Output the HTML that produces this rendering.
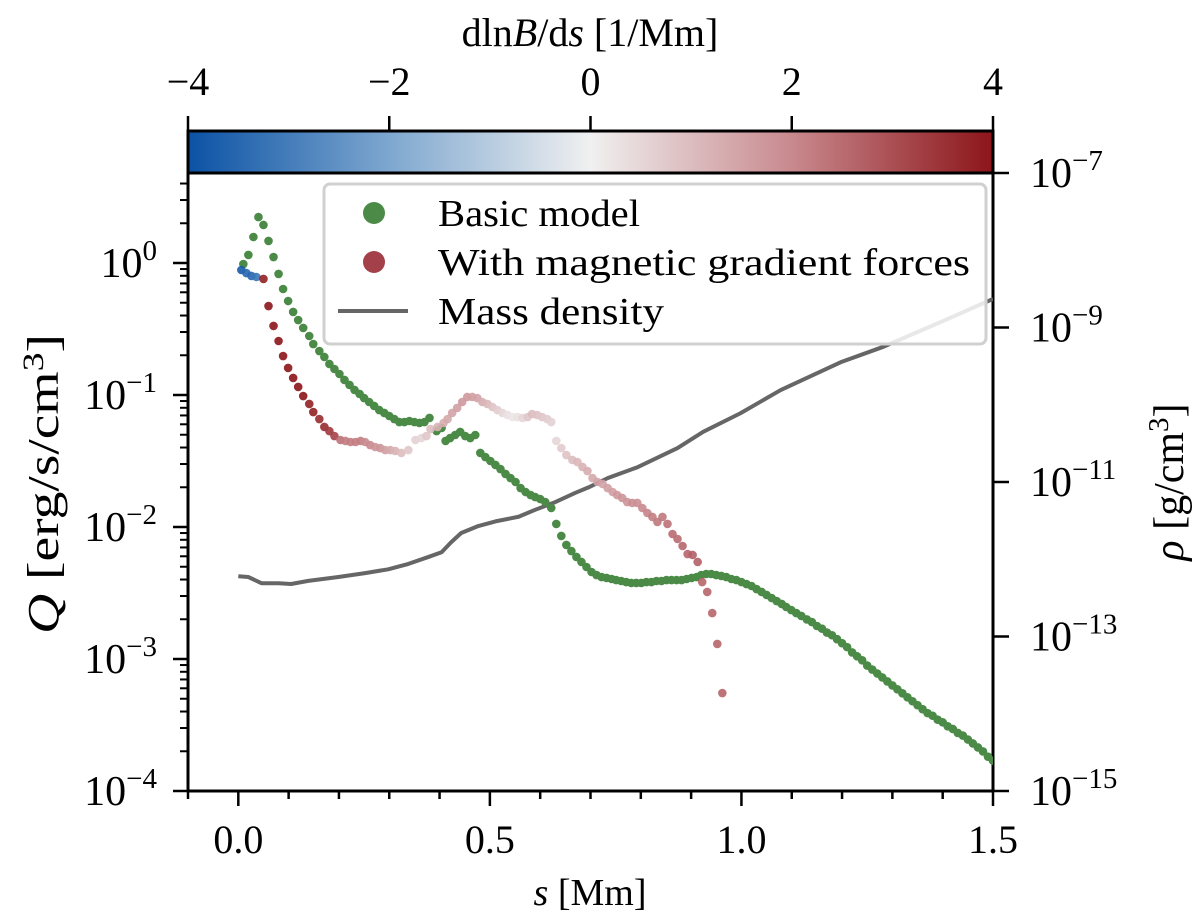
<!DOCTYPE html>
<html><head><meta charset="utf-8"><style>
html,body{margin:0;padding:0;background:#fff}
svg{display:block;font-family:"Liberation Serif",serif}
</style></head><body>
<svg id="chart" width="1200" height="923" viewBox="0 0 1200 923" xmlns="http://www.w3.org/2000/svg">
<defs>
<linearGradient id="cbgrad" x1="0" x2="1" y1="0" y2="0">
<stop offset="0" stop-color="#0b52a5"/><stop offset="0.25" stop-color="#7ea7cf"/><stop offset="0.5" stop-color="#f0f0f0"/><stop offset="0.75" stop-color="#c8898e"/><stop offset="1" stop-color="#8c1519"/>
</linearGradient>
<clipPath id="plotclip"><rect x="188" y="173" width="805" height="618"/></clipPath>
</defs>
<g id="axes"></g>
<g id="marks" clip-path="url(#plotclip)"></g>
<rect x="188" y="131" width="805" height="42" fill="url(#cbgrad)" stroke="#000" stroke-width="3"/>
<text x="590" y="46" font-size="40" text-anchor="middle">dln<tspan font-style="italic">B</tspan>/d<tspan font-style="italic">s</tspan> [1/Mm]</text>
<g>
<rect x="324" y="184" width="662" height="160" rx="6" fill="#fff" fill-opacity="0.85" stroke="#d0d0d0" stroke-width="3"/>
<circle cx="374" cy="213" r="11" fill="#4b8b47"/>
<text x="438" y="226" font-size="38" textLength="202" lengthAdjust="spacingAndGlyphs">Basic model</text>
<circle cx="374" cy="262" r="11" fill="#a3404a"/>
<text x="438" y="275" font-size="38" textLength="532" lengthAdjust="spacingAndGlyphs">With magnetic gradient forces</text>
<line x1="338" y1="311" x2="408" y2="311" stroke="#666" stroke-width="4"/>
<text x="438" y="324" font-size="38" textLength="226" lengthAdjust="spacingAndGlyphs">Mass density</text>
</g>
<text x="590" y="905" font-size="38" text-anchor="middle"><tspan font-style="italic">s</tspan> [Mm]</text>
<text transform="translate(58,484) rotate(-90)" font-size="44" text-anchor="middle" textLength="300" lengthAdjust="spacingAndGlyphs"><tspan font-style="italic">Q</tspan> [erg/s/cm<tspan dy="-15" font-size="30">3</tspan><tspan dy="15">]</tspan></text>
<text transform="translate(1183,482) rotate(-90)" font-size="42" text-anchor="middle"><tspan font-style="italic">ρ</tspan> [g/cm<tspan dy="-15" font-size="29">3</tspan><tspan dy="15">]</tspan></text>
</svg>
<script>
// ---- data ----
const basicS = [0.010,0.020,0.030,0.040,0.050,0.060,0.070,0.080,0.089,0.099,0.109,0.119,0.129,0.141,0.149,0.161,0.171,0.181,0.191,0.201,0.211,0.221,0.231,0.241,0.250,0.260,0.270,0.280,0.290,0.300,0.310,0.320,0.330,0.340,0.350,0.360,0.370,0.380,0.394,0.404,0.412,0.421,0.431,0.441,0.451,0.461,0.471,0.481,0.491,0.501,0.511,0.521,0.531,0.541,0.551,0.561,0.571,0.581,0.590,0.600,0.610,0.622,0.632,0.642,0.652,0.662,0.672,0.682,0.692,0.702,0.712,0.722,0.732,0.742,0.751,0.761,0.771,0.781,0.791,0.801,0.811,0.821,0.831,0.841,0.851,0.861,0.871,0.881,0.891,0.901,0.911,0.920,0.930,0.940,0.950,0.960,0.970,0.980,0.990,1.000,1.010,1.020,1.030,1.040,1.050,1.060,1.070,1.080,1.089,1.099,1.109,1.119,1.13,1.14,1.15,1.16,1.17,1.18,1.19,1.20,1.21,1.22,1.23,1.24,1.25,1.26,1.27,1.28,1.29,1.30,1.31,1.32,1.33,1.34,1.35,1.36,1.37,1.38,1.39,1.40,1.41,1.42,1.43,1.44,1.45,1.46,1.47,1.48,1.49,1.50];
const basicLogQ = [-0.008,0.061,0.197,0.348,0.288,0.167,0.045,-0.083,-0.197,-0.288,-0.371,-0.432,-0.492,-0.553,-0.614,-0.667,-0.712,-0.765,-0.803,-0.841,-0.886,-0.924,-0.962,-0.992,-1.023,-1.053,-1.083,-1.114,-1.136,-1.159,-1.182,-1.205,-1.205,-1.197,-1.205,-1.212,-1.205,-1.174,-1.273,-1.250,-1.348,-1.326,-1.303,-1.280,-1.311,-1.326,-1.303,-1.439,-1.470,-1.500,-1.530,-1.561,-1.598,-1.629,-1.659,-1.705,-1.735,-1.758,-1.773,-1.788,-1.811,-1.856,-1.977,-2.068,-2.136,-2.182,-2.227,-2.265,-2.303,-2.341,-2.364,-2.379,-2.386,-2.394,-2.402,-2.409,-2.417,-2.424,-2.424,-2.424,-2.417,-2.417,-2.409,-2.409,-2.402,-2.402,-2.402,-2.402,-2.394,-2.386,-2.379,-2.364,-2.356,-2.356,-2.364,-2.371,-2.379,-2.394,-2.402,-2.417,-2.432,-2.447,-2.470,-2.492,-2.515,-2.538,-2.561,-2.583,-2.606,-2.629,-2.652,-2.674,-2.70,-2.72,-2.75,-2.77,-2.80,-2.82,-2.85,-2.88,-2.91,-2.95,-2.98,-3.01,-3.05,-3.08,-3.11,-3.14,-3.17,-3.20,-3.23,-3.26,-3.29,-3.32,-3.35,-3.38,-3.41,-3.43,-3.46,-3.48,-3.51,-3.53,-3.56,-3.58,-3.61,-3.64,-3.67,-3.70,-3.74,-3.77];
const magS = [0.006,0.016,0.026,0.036,0.050,0.060,0.070,0.080,0.089,0.099,0.109,0.119,0.129,0.141,0.149,0.161,0.171,0.181,0.191,0.203,0.213,0.223,0.233,0.243,0.252,0.262,0.272,0.282,0.292,0.302,0.312,0.324,0.338,0.352,0.364,0.374,0.382,0.396,0.408,0.416,0.425,0.435,0.445,0.455,0.465,0.475,0.485,0.495,0.505,0.515,0.525,0.535,0.545,0.555,0.565,0.575,0.584,0.594,0.604,0.614,0.622,0.632,0.642,0.652,0.664,0.674,0.684,0.694,0.704,0.714,0.724,0.734,0.744,0.753,0.763,0.773,0.783,0.793,0.803,0.813,0.823,0.833,0.843,0.853,0.863,0.873,0.883,0.893,0.903,0.913,0.922,0.932,0.942,0.952,0.962];
const magLogQ = [-0.053,-0.076,-0.098,-0.106,-0.121,-0.326,-0.477,-0.591,-0.705,-0.795,-0.871,-0.939,-1.008,-1.068,-1.129,-1.182,-1.242,-1.273,-1.311,-1.341,-1.348,-1.356,-1.356,-1.348,-1.356,-1.379,-1.394,-1.402,-1.417,-1.417,-1.424,-1.439,-1.417,-1.341,-1.326,-1.311,-1.258,-1.242,-1.212,-1.182,-1.136,-1.098,-1.053,-1.015,-1.015,-1.023,-1.053,-1.068,-1.091,-1.114,-1.136,-1.152,-1.167,-1.167,-1.174,-1.167,-1.144,-1.152,-1.167,-1.182,-1.205,-1.348,-1.402,-1.455,-1.492,-1.508,-1.545,-1.576,-1.629,-1.659,-1.674,-1.705,-1.735,-1.758,-1.780,-1.811,-1.818,-1.818,-1.856,-1.894,-1.924,-1.962,-1.924,-1.977,-2.053,-2.091,-2.144,-2.205,-2.212,-2.265,-2.417,-2.492,-2.652,-2.886,-3.258];
const magGrad = [-3.8,-3.5,-3.5,-3.2,3.8,4,4,4,4,4,4,4,4,3.8,3.8,3.6,3.6,3.4,3.2,2.4,2.2,2.2,2.2,2.2,2.0,2.0,1.8,1.8,1.6,1.4,1.2,1.0,0.8,0.6,0.5,0.8,1.0,1.2,1.3,1.4,1.5,1.6,1.7,1.7,1.6,1.5,1.3,1.1,0.9,0.7,0.5,0.3,0.2,0.3,0.5,0.8,1.0,0.9,0.8,0.7,0.6,0.5,0.7,0.9,1.0,1.1,1.2,1.3,1.4,1.5,1.5,1.6,1.6,1.7,1.8,1.8,1.9,1.9,2.0,2.1,2.2,2.3,2.3,2.4,2.5,2.5,2.6,2.6,2.7,2.7,2.6,2.6,2.6,2.6,2.6];
const densS = [0.0,0.020,0.046,0.080,0.105,0.139,0.199,0.252,0.298,0.338,0.378,0.404,0.423,0.443,0.477,0.511,0.557,0.590,0.630,0.670,0.696,0.734,0.793,0.873,0.924,0.998,1.078,1.197,1.282,1.396,1.5];
const densLogRho = [-12.22,-12.23,-12.31,-12.31,-12.32,-12.28,-12.23,-12.18,-12.13,-12.06,-11.97,-11.91,-11.78,-11.66,-11.57,-11.51,-11.45,-11.36,-11.26,-11.14,-11.07,-10.95,-10.81,-10.56,-10.35,-10.11,-9.81,-9.45,-9.25,-8.93,-8.63];
const xTicks = [0.0,0.5,1.0,1.5];
const xTickLabels = ["0.0","0.5","1.0","1.5"];
const qTicks = [0,-1,-2,-3,-4];
const qTickLabels = ["0","−1","−2","−3","−4"];
const rhoTicks = [-7,-9,-11,-13,-15];
const rhoTickLabels = ["−7","−9","−11","−13","−15"];
const cbTicks = [-4,-2,0,2,4];
const cbTickLabels = ["−4","−2","0","2","4"];

// ---- scales ----
const X0=188,X1=993,Y0=173,Y1=791;
const xs = s => X0 + (s + 0.1) / 1.6 * (X1 - X0);
const yq = l => 263 - l * 132;
const yr = l => Y0 + (-7 - l) / 8 * (Y1 - Y0);
const xc = g => X0 + (g + 4) / 8 * (X1 - X0);
const NS="http://www.w3.org/2000/svg";
function mk(tag, parent){const e=document.createElementNS(NS,tag);parent.appendChild(e);return e;}
function hex(h){return [1,3,5].map(i=>parseInt(h.substr(i,2),16));}
const stops=[[-4,hex("#0b52a5")],[-2,hex("#7ea7cf")],[0,hex("#f0f0f0")],[2,hex("#c8898e")],[4,hex("#8c1519")]];
function cmap(g){g=Math.max(-4,Math.min(4,g));for(let i=0;i<4;i++){const a=stops[i],b=stops[i+1];if(g<=b[0]){const t=(g-a[0])/(b[0]-a[0]);const c=a[1].map((v,k)=>Math.round(v+(b[1][k]-v)*t));return `rgb(${c.join(",")})`;}}return "#8c1519";}

const axes=document.getElementById('axes');
const marks=document.getElementById('marks');

const dl=mk('polyline',marks);


dl.setAttribute('points',densS.map((s,i)=>xs(s)+','+yr(densLogRho[i])).join(' '));
dl.setAttribute('fill','none');dl.setAttribute('stroke','#666');dl.setAttribute('stroke-width','4');dl.setAttribute('stroke-linejoin','round');

basicS.forEach((s,i)=>{
  const c=mk('circle',marks);
  
  
  c.setAttribute('cx',xs(s));c.setAttribute('cy',yq(basicLogQ[i]));c.setAttribute('r','4.3');
  c.setAttribute('fill','#4b8b47');
});
magS.forEach((s,i)=>{
  const c=mk('circle',marks);
  
  
  c.setAttribute('cx',xs(s));c.setAttribute('cy',yq(magLogQ[i]));c.setAttribute('r','4.3');
  c.setAttribute('fill',cmap(magGrad[i]));c.setAttribute('fill-opacity','0.9');
});

function line(x1,y1,x2,y2,name,w){
  const l=mk('line',axes);
  
  
  l.setAttribute('x1',x1);l.setAttribute('y1',y1);l.setAttribute('x2',x2);l.setAttribute('y2',y2);
  l.setAttribute('stroke','#000');l.setAttribute('stroke-width',w||3);
}
function txt(x,y,str,anchor,name,size){
  const t=mk('text',axes);
  
  
  t.setAttribute('x',x);t.setAttribute('y',y);t.setAttribute('text-anchor',anchor);t.setAttribute('font-size',size||40);
  t.textContent=str;return t;
}
function pow(x,y,exp,anchor,name){
  const t=txt(x,y,'10',anchor,name,42);
  const sp=document.createElementNS(NS,'tspan');
  sp.setAttribute('dy','-17');sp.setAttribute('font-size','29');sp.textContent=exp;t.appendChild(sp);
}

line(X0,Y0,X0,Y1,'left-spine');
line(X1,Y0,X1,Y1,'right-spine');
line(X0-1.5,Y1,X1+1.5,Y1,'bottom-spine');

for(let k=-1;k<=15;k++){const s=k/10;line(xs(s),Y1,xs(s),Y1+(k%5===0?15:8),'x-tick',2.5);}
xTicks.forEach((s,i)=>txt(xs(s),Y1+62,xTickLabels[i],'middle','x-tick-label'));

qTicks.forEach((l,i)=>{line(X0-15,yq(l),X0,yq(l),'y-tick-left',2.5);pow(X0-31,yq(l)+14,qTickLabels[i],'end','y-tick-label-left');});
for(let d=-4;d<=0;d++){for(let m=2;m<=9;m++){const y=yq(d+Math.log10(m));if(y>=Y0&&y<=Y1)line(X0-8,y,X0,y,'y-minor-tick-left',2);}}
rhoTicks.forEach((l,i)=>{line(X1,yr(l),X1+16,yr(l),'y-tick-right',2.5);pow(X1+37,yr(l)+14,rhoTickLabels[i],'start','y-tick-label-right');});
cbTicks.forEach((g,i)=>{line(xc(g),116,xc(g),131,'colorbar-tick',2.5);txt(xc(g),95,cbTickLabels[i],'middle','colorbar-tick-label');});
</script>
</body></html>
